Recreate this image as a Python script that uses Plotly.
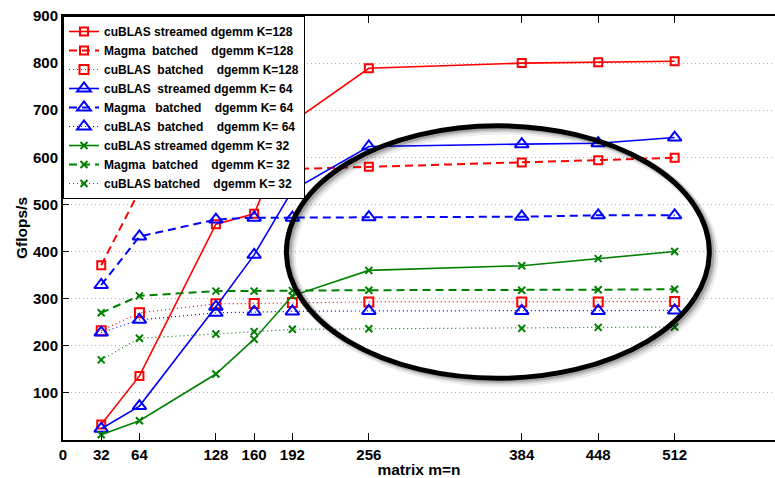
import plotly.graph_objects as go

# ---------------- data ----------------
sizes = [32, 64, 128, 160, 192, 256, 384, 448, 512]

cublas_streamed_128 = [33, 136, 458, 480, 675, 789, 800, 802, 804]
magma_batched_128 = [371, 529, 549, 567, 575, 580, 589, 594, 599]
cublas_batched_128 = [232, 270, 289, 290, 292, 293, 293, 293, 294]

cublas_streamed_64 = [24, 72, 283, 393, 530, 623, 628, 630, 642]
magma_batched_64 = [329, 432, 468, 472, 472, 473, 474, 477, 477]
cublas_batched_64 = [228, 255, 270, 272, 273, 274, 274, 274, 275]

cublas_streamed_32 = [11, 41, 140, 214, 306, 360, 370, 385, 400]
magma_batched_32 = [270, 306, 316, 316, 317, 318, 318, 319, 320]
cublas_batched_32 = [170, 216, 225, 230, 235, 236, 237, 239, 240]

x_ticks = [0, 32, 64, 128, 160, 192, 256, 384, 448, 512]
y_ticks = [100, 200, 300, 400, 500, 600, 700, 800, 900]

NB = "\u00a0"
names = [
    "cuBLAS streamed dgemm K=128",
    f"Magma{NB}{NB}batched{NB}{NB}{NB}{NB}dgemm K=128",
    f"cuBLAS{NB}{NB}batched{NB}{NB}{NB}{NB}dgemm K=128",
    f"cuBLAS{NB}{NB}streamed dgemm K={NB}64",
    f"Magma{NB}{NB}{NB}batched{NB}{NB}{NB}{NB}dgemm K={NB}64",
    f"cuBLAS{NB}{NB}batched{NB}{NB}{NB}{NB}dgemm K={NB}64",
    f"cuBLAS streamed dgemm K={NB}32",
    f"Magma{NB}{NB}batched{NB}{NB}{NB}{NB}dgemm K={NB}32",
    f"cuBLAS batched{NB}{NB}{NB}{NB}dgemm K={NB}32",
]

# highlight ellipse (data coordinates)
ELL_X = (187, 541)
ELL_Y = (131, 667)

RED = "#ff0000"
BLUE = "#0000ff"
GREEN = "#008000"

series = [
    (cublas_streamed_128, RED, "solid", 1.6, "square-open", 8),
    (magma_batched_128, RED, "8px,5px", 2, "square-open", 8),
    (cublas_batched_128, RED, "1px,3px", 1.2, "square-open", 9),
    (cublas_streamed_64, BLUE, "solid", 1.6, "triangle-up-open", 12),
    (magma_batched_64, BLUE, "8px,5px", 2, "triangle-up-open", 12),
    (cublas_batched_64, BLUE, "1px,3px", 1.2, "triangle-up-open", 12),
    (cublas_streamed_32, GREEN, "solid", 1.6, "x-thin", 7),
    (magma_batched_32, GREEN, "8px,5px", 2, "x-thin", 7),
    (cublas_batched_32, GREEN, "1px,3px", 1.2, "x-thin", 7),
]

fig = go.Figure()
for (vals, color, dash, lw, sym, ms), name in zip(series, names):
    fig.add_trace(go.Scatter(
        x=sizes, y=vals, name=name, mode="lines+markers",
        line=dict(color=color, dash=dash, width=lw),
        marker=dict(symbol=sym, size=ms, color=color,
                    line=dict(color=color, width=2)),
    ))

FONT = "Liberation Sans, Arial, sans-serif"

# ellipse soft shadow + ellipse
shapes = []
for dx, dy, op, w in [(4, -9, 0.07, 9), (3, -6, 0.12, 7), (2, -4, 0.2, 5)]:
    shapes.append(dict(type="circle", xref="x", yref="y",
                       x0=ELL_X[0] + dx, x1=ELL_X[1] + dx,
                       y0=ELL_Y[0] + dy, y1=ELL_Y[1] + dy,
                       line=dict(color=f"rgba(0,0,0,{op})", width=w)))
shapes.append(dict(type="circle", xref="x", yref="y",
                   x0=ELL_X[0], x1=ELL_X[1], y0=ELL_Y[0], y1=ELL_Y[1],
                   line=dict(color="black", width=5)))

fig.update_layout(
    width=775, height=478,
    margin=dict(l=63, r=0, t=16, b=38),
    paper_bgcolor="white", plot_bgcolor="white",
    font=dict(family=FONT, size=15, color="black", weight="bold"),
    showlegend=True,
    legend=dict(x=0, y=1, xanchor="left", yanchor="top",
                bgcolor="white", bordercolor="black", borderwidth=1,
                font=dict(family=FONT, size=12, color="black", weight="bold"),
                tracegroupgap=0, itemwidth=30),
    shapes=shapes,
    xaxis=dict(range=[0, 596], tickvals=x_ticks, ticktext=[str(v) for v in x_ticks],
               ticks="inside", ticklen=7, tickwidth=1, tickcolor="black",
               showline=True, linecolor="black", linewidth=2, mirror="ticks",
               showgrid=False, zeroline=False,
               title=dict(text="matrix m=n", standoff=4,
                          font=dict(family=FONT, size=15.5, weight="bold"))),
    yaxis=dict(range=[0, 900], tickvals=y_ticks, ticktext=[str(v) for v in y_ticks],
               ticks="inside", ticklen=6, tickwidth=1, tickcolor="black",
               showline=True, linecolor="black", linewidth=2,
               showgrid=True, gridcolor="#b0b0b0", gridwidth=1, griddash="1px,3px",
               zeroline=False,
               title=dict(text="Gflops/s", standoff=2,
                          font=dict(family=FONT, size=15.5, weight="bold"))),
)

fig.write_html("out.html")
